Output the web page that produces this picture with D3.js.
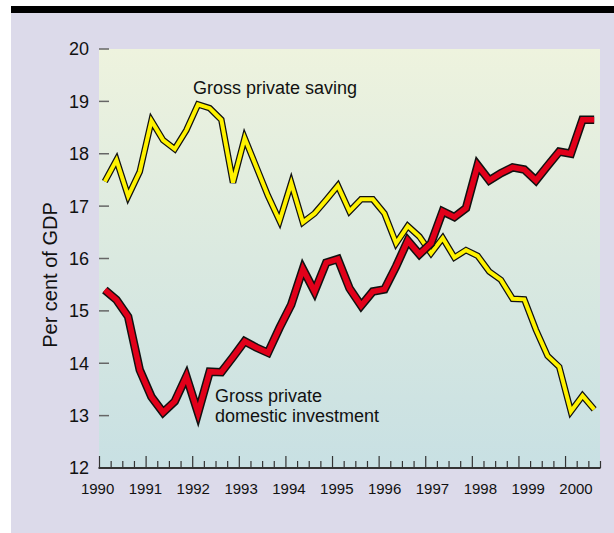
<!DOCTYPE html>
<html>
<head>
<meta charset="utf-8">
<script src="https://cdn.jsdelivr.net/npm/d3@7"></script>
<style>
  body { margin: 0; background: #fff; }
  svg { display: block; font-family: "Liberation Sans", Arial, sans-serif; }
</style>
</head>
<body>
<svg id="chart"></svg>
<script>
// quarterly data, 1990Q1 - 2000Q3, per cent of GDP
const saving = [
  17.47, 17.88, 17.19, 17.66, 18.63, 18.26, 18.09, 18.45,
  18.94, 18.87, 18.65, 17.45, 18.30, 17.75, 17.20, 16.72,
  17.44, 16.69, 16.86, 17.12, 17.39, 16.90, 17.13, 17.13,
  16.86, 16.29, 16.62, 16.42, 16.10, 16.39, 16.02, 16.16,
  16.05, 15.75, 15.59, 15.23, 15.22, 14.64, 14.14, 13.93,
  13.08, 13.38, 13.12
]
const investment = [
  15.40, 15.21, 14.89, 13.87, 13.36, 13.06, 13.27, 13.75,
  13.05, 13.84, 13.83, 14.12, 14.42, 14.30, 14.20, 14.68,
  15.12, 15.80, 15.37, 15.92, 15.99, 15.43, 15.10, 15.37,
  15.41, 15.85, 16.34, 16.08, 16.29, 16.90, 16.79, 16.96,
  17.78, 17.49, 17.63, 17.74, 17.70, 17.49, 17.77, 18.04,
  18.00, 18.65, 18.65
]
const yearLabels = [1990, 1991, 1992, 1993, 1994, 1995, 1996, 1997, 1998, 1999, 2000]
const yTicks = [12, 13, 14, 15, 16, 17, 18, 19, 20]
const startYear = 1990

const width = 614
const height = 533
const svg = d3.select('#chart')
  .attr('width', width)
  .attr('height', height)

// frame
svg.append('rect')
  .attr('x', 11).attr('y', 12)
  .attr('width', width - 11).attr('height', height - 12)
  .attr('fill', '#dcdaea')
svg.append('rect')
  .attr('x', 11).attr('y', 6)
  .attr('width', width - 11).attr('height', 7)
  .attr('fill', '#000')

const x = d3.scaleLinear()
  .domain([1990, 2000.75])
  .range([99, 600])
const y = d3.scaleLinear()
  .domain([12, 20])
  .range([468, 49])
// year labels sit a touch to the right in the original
const labelX = d3.scaleLinear()
  .domain([1990, 2000])
  .range([97.6, 576])

// plot background gradient
const grad = svg.append('defs').append('linearGradient')
  .attr('id', 'bg')
  .attr('x1', 0).attr('y1', 0).attr('x2', 0).attr('y2', 1)
grad.append('stop').attr('offset', '0%').attr('stop-color', '#eef3de')
grad.append('stop').attr('offset', '50%').attr('stop-color', '#dae9e0')
grad.append('stop').attr('offset', '100%').attr('stop-color', '#c8e0e3')

svg.append('rect')
  .attr('x', x(1990)).attr('y', y(20))
  .attr('width', x(2000.75) - x(1990))
  .attr('height', y(12) - y(20))
  .attr('fill', 'url(#bg)')

// y ticks (drawn inside the plot)
svg.append('g')
  .selectAll('line')
  .data(yTicks.filter(d => d > 12))
  .enter()
  .append('line')
    .attr('x1', x(1990)).attr('x2', x(1990) + 10)
    .attr('y1', d => y(d)).attr('y2', d => y(d))
    .attr('stroke', '#666')
    .attr('stroke-width', 1.5)

svg.append('g')
  .selectAll('text')
  .data(yTicks)
  .enter()
  .append('text')
    .attr('x', 89)
    .attr('y', d => y(d))
    .attr('dy', '0.36em')
    .attr('text-anchor', 'end')
    .style('font-size', '18px')
    .attr('fill', '#111')
    .text(d => d)

// x axis with quarter ticks
const xAxis = d3.axisTop(x)
  .tickValues(d3.range(0, 44).map(i => startYear + i / 4))
  .tickSize(7)
  .tickFormat('')
const gx = svg.append('g')
  .attr('transform', `translate(0,${y(12)})`)
  .call(xAxis)
gx.select('.domain').remove()
gx.selectAll('.tick line')
  .attr('stroke', '#333')
  .attr('stroke-width', 1.2)
  .attr('y2', d => Math.abs(d - Math.round(d)) < 1e-6 ? -12 : -7)
gx.append('line')
  .attr('x1', x(1990) - 0.5).attr('x2', x(2000.75) + 0.5)
  .attr('stroke', '#333')
  .attr('stroke-width', 2)

svg.append('g')
  .selectAll('text')
  .data(yearLabels)
  .enter()
  .append('text')
    .attr('x', d => labelX(d))
    .attr('y', 494)
    .attr('text-anchor', 'middle')
    .style('font-size', '15px')
    .attr('fill', '#111')
    .text(d => d)

// y axis title
svg.append('text')
  .attr('transform', 'translate(57,275) rotate(-90)')
  .attr('text-anchor', 'middle')
  .style('font-size', '20px')
  .attr('fill', '#111')
  .text('Per cent of GDP')

// lines: dark outline underneath, colour on top
const line = d3.line()
  .x((d, i) => x(startYear + (i + 0.5) / 4))
  .y(d => y(d))

const series = [
  { values: saving, color: '#fff200', outer: 6.5, inner: 4 },
  { values: investment, color: '#e2001a', outer: 8.5, inner: 5.5 }
]

series.forEach(s => {
  svg.append('path')
    .datum(s.values)
    .attr('d', line)
    .attr('fill', 'none')
    .attr('stroke', '#111')
    .attr('stroke-width', s.outer)
    .attr('stroke-linejoin', 'miter')
  svg.append('path')
    .datum(s.values)
    .attr('d', line)
    .attr('fill', 'none')
    .attr('stroke', s.color)
    .attr('stroke-width', s.inner)
    .attr('stroke-linejoin', 'miter')
})

// series labels
svg.append('text')
  .attr('x', 193).attr('y', 94)
  .style('font-size', '18px')
  .attr('fill', '#111')
  .text('Gross private saving')

const invLabel = svg.append('text')
  .attr('x', 215).attr('y', 402)
  .style('font-size', '18px')
  .attr('fill', '#111')
invLabel.append('tspan').attr('x', 215).text('Gross private')
invLabel.append('tspan').attr('x', 215).attr('dy', 20).text('domestic investment')
</script>
</body>
</html>
